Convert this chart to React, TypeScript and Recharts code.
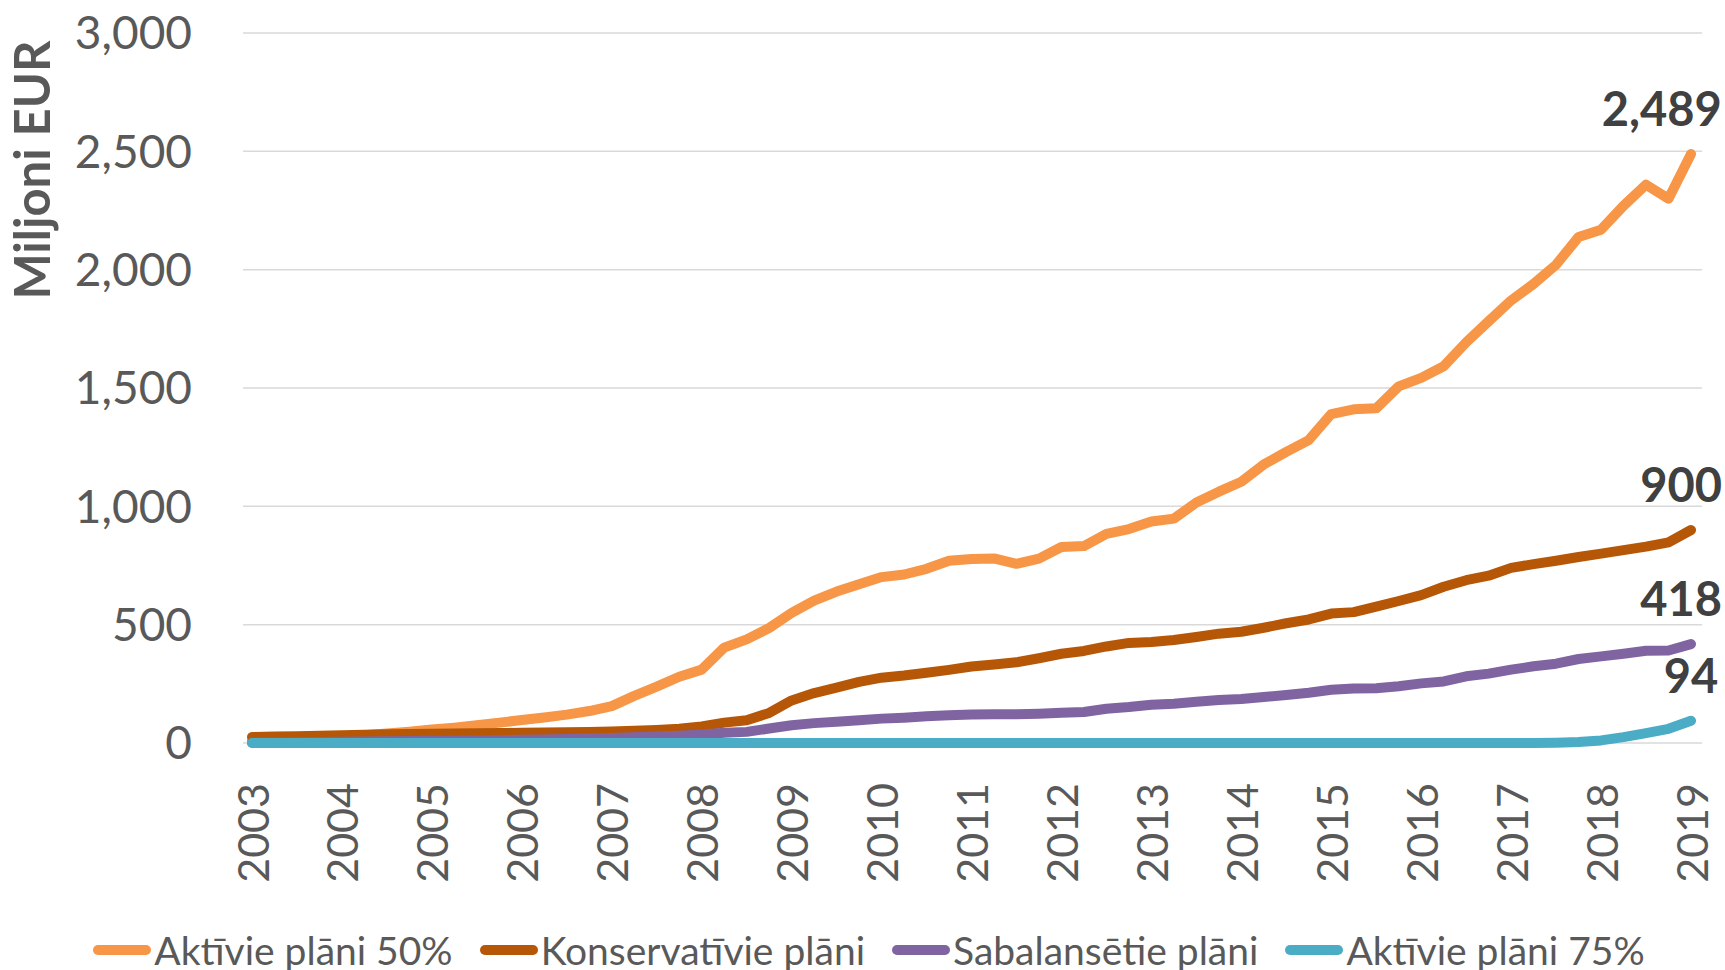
import React from 'react';
import { LineChart, Line, XAxis, YAxis, CartesianGrid, Legend, LabelList } from 'recharts';

const CHART_W = 1725;
const CHART_H = 970;

const years = ['2003', '2004', '2005', '2006', '2007', '2008', '2009', '2010', '2011', '2012', '2013', '2014', '2015', '2016', '2017', '2018', '2019'];
const quarterNames = ['Q1', 'Q2', 'Q3', 'Q4'];
const categories: string[] = [
  ...years.slice(0, -1).flatMap((y) => quarterNames.map((q) => `${y} ${q}`)),
  `${years[years.length - 1]} Q1`,
];

const aktivie50 = [
  8, 12, 16, 20, 26, 33, 40, 48, 57, 65, 75, 86, 97, 108, 120, 135,
  156, 199, 238, 280, 310, 403, 438, 486, 550, 602, 640, 671, 701, 712, 736, 770,
  777, 780, 757, 779, 828, 832, 884, 904, 936, 948, 1016, 1062, 1104, 1177, 1230, 1280,
  1390, 1410, 1414, 1507, 1543, 1592, 1693, 1782, 1870, 1940, 2021, 2138, 2169, 2270, 2359, 2300,
  2489,
];
const konservativie = [
  25, 27, 29, 31, 33, 35, 37, 38, 39, 40, 41, 42, 43, 44, 45, 47,
  49, 52, 55, 60, 70, 86, 96, 127, 180, 211, 234, 258, 276, 285, 297, 309,
  323, 332, 341, 358, 377, 389, 408, 423, 427, 435, 448, 462, 470, 487, 506, 522,
  547, 553, 576, 600, 625, 660, 688, 707, 740, 756, 770, 786, 800, 815, 830, 848,
  900,
];
const sabalansetie = [
  1, 2, 3, 4, 5, 6, 7, 8, 9, 10, 11, 12, 14, 15, 17, 19,
  21, 24, 27, 31, 36, 43, 47, 61, 75, 84, 90, 96, 103, 107, 113, 117,
  120, 121, 122, 124, 128, 131, 145, 152, 162, 166, 174, 182, 186, 194, 203, 212,
  225, 230, 231, 240, 252, 260, 282, 293, 310, 324, 335, 355, 366, 377, 390, 391,
  418,
];
const aktivie75 = [
  0, 0, 0, 0, 0, 0, 0, 0, 0, 0, 0, 0, 0, 0, 0, 0,
  0, 0, 0, 0, 0, 0, 0, 0, 0, 0, 0, 0, 0, 0, 0, 0,
  0, 0, 0, 0, 0, 0, 0, 0, 0, 0, 0, 0, 0, 0, 0, 0,
  0, 0, 0, 0, 0, 0, 0, 0, 0, 0, 1, 4, 11, 25, 42, 60,
  94,
];

const yTicks = [0, 500, 1000, 1500, 2000, 2500, 3000];

const seriesDefs = [
  { key: 'a50', name: 'Aktīvie plāni 50%', color: '#F79646', values: aktivie50 },
  { key: 'kons', name: 'Konservatīvie plāni', color: '#B65708', values: konservativie },
  { key: 'sab', name: 'Sabalansētie plāni', color: '#8064A2', values: sabalansetie },
  { key: 'a75', name: 'Aktīvie plāni 75%', color: '#4BACC6', values: aktivie75 },
];

const data = categories.map((q, i) => {
  const row: Record<string, string | number> = { q };
  seriesDefs.forEach((s) => {
    row[s.key] = s.values[i];
  });
  return row;
});

const FONT = 'Lato, "Open Sans", sans-serif';
const fmt = (v: number) => v.toLocaleString('en-US');
const LINE_W = 10;

const XTick = (props: any) => {
  const { x, y, payload } = props;
  return (
    <text
      x={x}
      y={y}
      transform={`rotate(-90 ${x} ${y})`}
      textAnchor="end"
      dominantBaseline="central"
      fill="#595959"
      fontSize={43}
      fontFamily={FONT}
    >
      {String(payload.value).slice(0, 4)}
    </text>
  );
};

const makeLastLabel = (lastIndex: number) => (props: any) => {
  const { x, y, index, value } = props;
  if (index !== lastIndex) return null;
  const text = fmt(Number(value));
  const fs = 47;
  let w = 0;
  for (const ch of text) w += ch === ',' ? 0.24 * fs : 0.58 * fs;
  const cx = Math.min(x, CHART_W - 3 - w / 2);
  return (
    <text
      x={cx}
      y={y - 28}
      textAnchor="middle"
      fill="#404040"
      fontSize={fs}
      fontWeight="bold"
      fontFamily={FONT}
    >
      {text}
    </text>
  );
};

const renderLegend = () => (
  <div
    style={{
      display: 'flex',
      justifyContent: 'center',
      alignItems: 'center',
      fontFamily: FONT,
      fontSize: 39,
      lineHeight: '46px',
      color: '#595959',
      paddingLeft: 13,
    }}
  >
    {seriesDefs.map((s, i) => (
      <div key={s.key} style={{ display: 'flex', alignItems: 'center', marginRight: i < seriesDefs.length - 1 ? 27 : 0 }}>
        <svg width={58} height={12} style={{ display: 'block' }}>
          <line x1={5} y1={6} x2={53} y2={6} stroke={s.color} strokeWidth={LINE_W} strokeLinecap="round" />
        </svg>
        <span style={{ marginLeft: 3, whiteSpace: 'nowrap' }}>{s.name}</span>
      </div>
    ))}
  </div>
);

const YTitle = () => (
  <text
    x={50}
    y={170}
    transform="rotate(-90 50 170)"
    textAnchor="middle"
    fill="#595959"
    fontSize={49}
    fontWeight="bold"
    fontFamily={FONT}
  >
    Miljoni EUR
  </text>
);

export default function App() {
  return (
    <div style={{ position: 'absolute', left: 0, top: 0, width: CHART_W, height: CHART_H, background: '#fff' }}>
      <LineChart
        width={CHART_W}
        height={CHART_H}
        data={data}
        margin={{ top: 33, right: 23, left: 0, bottom: 77 }}
      >
        <CartesianGrid vertical={false} stroke="#D9D9D9" strokeWidth={1.5} />
        <XAxis
          dataKey="q"
          interval={3}
          padding={{ left: 9, right: 11 }}
          tickLine={false}
          tickSize={0}
          tickMargin={40}
          height={150}
          axisLine={false}
          tick={<XTick />}
        />
        <YAxis
          domain={[0, 3000]}
          ticks={yTicks}
          tickFormatter={fmt}
          width={243}
          axisLine={false}
          tickLine={false}
          tickSize={0}
          tickMargin={51}
          tick={{ fill: '#595959', fontSize: 46, fontFamily: FONT }}
          label={<YTitle />}
        />
        <Legend
          layout="horizontal"
          verticalAlign="middle"
          align="center"
          content={renderLegend}
          wrapperStyle={{ position: 'absolute', top: 927, left: 0, width: CHART_W }}
        />
        {seriesDefs.map((s) => (
          <Line
            key={s.key}
            type="linear"
            dataKey={s.key}
            name={s.name}
            stroke={s.color}
            strokeWidth={LINE_W}
            strokeLinecap="round"
            strokeLinejoin="round"
            dot={false}
            activeDot={false}
            isAnimationActive={false}
          >
            <LabelList dataKey={s.key} content={makeLastLabel(s.values.length - 1)} />
          </Line>
        ))}
      </LineChart>
    </div>
  );
}
